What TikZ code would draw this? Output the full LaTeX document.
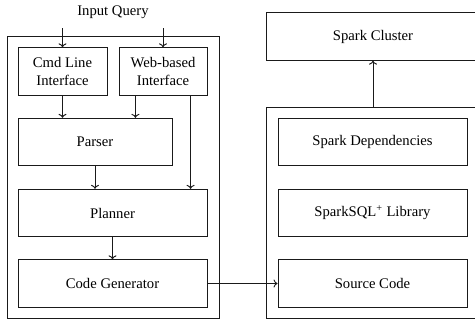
\documentclass[tikz,border=0pt]{standalone}
\usepackage{fontspec}
\setmainfont{Liberation Serif}
\usetikzlibrary{arrows.meta,positioning,calc}
\definecolor{ink}{HTML}{1A1A1A}

\begin{document}
\begin{tikzpicture}[x=0.75pt,y=-0.75pt,font=\fontsize{11}{13.5}\selectfont,
  block/.style={draw=ink,line width=0.7pt,align=center,inner sep=0pt,
                minimum height=35.5pt},
  frame/.style={draw=ink,line width=0.7pt,inner sep=0pt},
  flow/.style={-{To[length=3pt,width=6pt]},ink,line width=0.7pt}]
  \useasboundingbox (0,0) rectangle (475,324);
  % front end
  \node[frame,minimum width=159pt,minimum height=211.5pt] (front) at (113,177) {};
  \node (query) at (113,12) {Input Query};
  \node[block,minimum width=66.75pt] (cmd) at (62.5,71.5) {Cmd Line\\Interface};
  \node[block,minimum width=66pt] (web) at (163,71.5) {Web-based\\Interface};
  \node[block,minimum width=115.5pt] (parser) at (95,142) {Parser};
  \node[block,minimum width=141.75pt] (planner) at (112.5,213) {Planner};
  \node[block,minimum width=141.75pt] (codegen) at (112.5,283.5) {Code Generator};
  % back end
  \node[block,minimum width=160.5pt] (cluster) at (373,36.5) {Spark Cluster};
  \node[frame,minimum width=160.5pt,minimum height=158.25pt] (back) at (373,212.5) {};
  \node[block,minimum width=141.75pt] (deps) at (372.5,142) {Spark Dependencies};
  \node[block,minimum width=141.75pt] (sqllib) at (372.5,213) {SparkSQL\textsuperscript{+} Library};
  \node[block,minimum width=141.75pt] (source) at (372.5,283.5) {Source Code};
  % arrows
  \draw[flow] ([yshift=-4pt]query.south -| cmd.north) -- (cmd.north);
  \draw[flow] ([yshift=-4pt]query.south -| web.north) -- (web.north);
  \draw[flow] (cmd.south) -- (cmd.south |- parser.north);
  \draw[flow] ($(web.south west)!.19!(web.south east)$) coordinate (wa) -- (wa |- parser.north);
  \draw[flow] ($(web.south west)!.81!(web.south east)$) coordinate (wb) -- (wb |- planner.north);
  \draw[flow] (parser.south) -- (parser.south |- planner.north);
  \draw[flow] (planner) -- (codegen);
  \draw[flow] (codegen) -- (source);
  \draw[flow] (back.north) -- (cluster.south);
\end{tikzpicture}
\end{document}
